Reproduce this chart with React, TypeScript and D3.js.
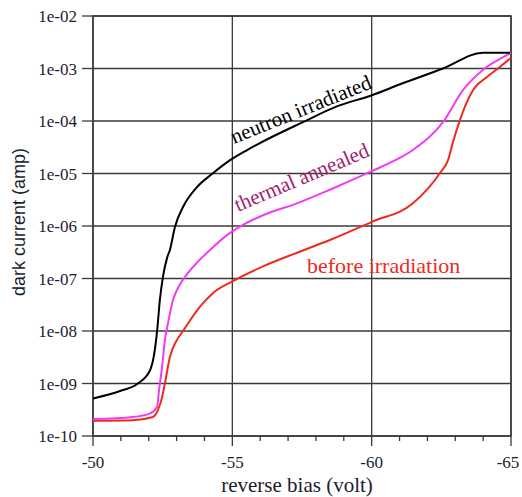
import React, { useEffect } from 'react'
import * as d3 from 'd3'

// reverse bias (V) and dark current (A)
const neutronV = [-50, -50.97, -51.61, -52.05, -52.22, -52.3, -52.4, -52.51, -52.66, -52.76, -52.94, -53.23, -53.73, -54.27, -54.92, -55.53, -55.99, -57.53, -58.75, -60.01, -61.02, -62.56, -63.99, -64.96]
const neutronI = [5.2e-10, 7.2e-10, 1.0e-9, 1.8e-9, 4.4e-9, 1e-8, 3.9e-8, 1.07e-7, 2.5e-7, 3.5e-7, 9.6e-7, 2.3e-6, 5.5e-6, 9.8e-6, 1.8e-5, 2.8e-5, 3.8e-5, 9.5e-5, 1.9e-4, 3.1e-4, 5.0e-4, 1.0e-3, 2.0e-3, 2.0e-3]

const annealedV = [-50, -51.43, -52.05, -52.3, -52.37, -52.48, -52.58, -52.69, -52.87, -53.01, -53.3, -53.73, -54.2, -54.81, -55.38, -56.1, -57.32, -58.5, -59.94, -61.02, -61.48, -62.56, -63.28, -63.99, -64.85, -65]
const annealedI = [2.1e-10, 2.3e-10, 2.7e-10, 3.6e-10, 7.5e-10, 2.1e-9, 6.7e-9, 1.4e-8, 3.9e-8, 6.0e-8, 1.07e-7, 2.0e-7, 3.5e-7, 6.7e-7, 1.05e-6, 1.6e-6, 2.7e-6, 4.9e-6, 1.07e-5, 2.0e-5, 2.8e-5, 9.5e-5, 3.9e-4, 9.4e-4, 1.8e-3, 2.0e-3]

const beforeV = [-50, -51.43, -52.15, -52.33, -52.48, -52.58, -52.76, -53.01, -53.23, -53.84, -54.31, -55.02, -56.1, -57.32, -58.5, -60.01, -61.48, -62.45, -62.74, -62.92, -63.17, -63.35, -63.64, -64.14, -64.6, -65]
const beforeI = [1.95e-10, 2.0e-10, 2.3e-10, 3.1e-10, 5.5e-10, 1.0e-9, 3.2e-9, 6.7e-9, 1.0e-8, 2.9e-8, 5.3e-8, 8.9e-8, 1.7e-7, 3.1e-7, 5.4e-7, 1.2e-6, 2.7e-6, 1.02e-5, 1.8e-5, 4.0e-5, 1.05e-4, 1.9e-4, 3.9e-4, 6.9e-4, 1.07e-3, 1.6e-3]

const yTicks = [1e-10, 1e-9, 1e-8, 1e-7, 1e-6, 1e-5, 1e-4, 1e-3, 1e-2]
const yTickLabels = ['1e-10', '1e-09', '1e-08', '1e-07', '1e-06', '1e-05', '1e-04', '1e-03', '1e-02']
const xMajor = [-50, -55, -60, -65]
const xMinor = d3.range(-51, -65, -1).filter(v => v % 5 !== 0)

const width = 522
const height = 497
const left = 93
const right = 511
const top = 16
const bottom = 436

export default function App() {
  // drop the body margin and any scrollbar so the chart sits at 0,0
  useEffect(() => {
    document.body.style.margin = '0'
    document.body.style.overflow = 'hidden'
  }, [])

  const x = d3.scaleLinear().domain([-50, -65]).range([left, right])
  const y = d3.scaleLog().domain([1e-10, 1e-2]).range([bottom, top])

  const line = d3.line<[number, number]>()
    .x(d => x(d[0]))
    .y(d => y(d[1]))
    .curve(d3.curveMonotoneX)

  const series = [
    { v: beforeV, i: beforeI, color: '#ee2a1e' },
    { v: annealedV, i: annealedI, color: '#f23cf2' },
    { v: neutronV, i: neutronI, color: '#000' },
  ]

  const gridColor = '#3a3a3a'
  const ink = '#1c1c30'

  return (
    <svg width={width} height={height}>
      {/* grid */}
      {yTicks.map(t => (
        <line key={'gy' + t} x1={left} x2={right} y1={y(t)} y2={y(t)} stroke={gridColor} strokeWidth={1.3} />
      ))}
      {xMajor.map(v => (
        <line key={'gx' + v} x1={x(v)} x2={x(v)} y1={top} y2={bottom} stroke={gridColor} strokeWidth={1.3} />
      ))}
      <rect x={left} y={top} width={right - left} height={bottom - top} fill="none" stroke={gridColor} strokeWidth={1.5} />

      {/* ticks */}
      {yTicks.map(t => (
        <line key={'ty' + t} x1={left - 11} x2={left} y1={y(t)} y2={y(t)} stroke={gridColor} strokeWidth={1.3} />
      ))}
      {xMajor.map(v => (
        <line key={'tx' + v} x1={x(v)} x2={x(v)} y1={bottom} y2={bottom + 10} stroke={gridColor} strokeWidth={1.3} />
      ))}
      {xMinor.map(v => (
        <line key={'tm' + v} x1={x(v)} x2={x(v)} y1={bottom} y2={bottom + 5} stroke={gridColor} strokeWidth={1.3} />
      ))}

      {/* tick labels */}
      {yTicks.map((t, k) => (
        <text key={'ly' + t} x={77} y={y(t) + 6} fontSize={17} style={{ fontFamily: 'Times New Roman', fill: ink, textAnchor: 'end' }}>
          {yTickLabels[k]}
        </text>
      ))}
      {xMajor.map(v => (
        <text key={'lx' + v} x={v === -65 ? x(v) - 3 : x(v)} y={468} fontSize={17} style={{ fontFamily: 'Times New Roman', fill: ink, textAnchor: 'middle' }}>
          {v}
        </text>
      ))}

      {/* curves */}
      {series.map((s, k) => (
        <path key={k} d={line(s.v.map((v, j) => [v, s.i[j]] as [number, number])) || ''} fill="none" stroke={s.color} strokeWidth={2} strokeLinejoin="round" />
      ))}

      {/* curve labels */}
      <text x={234} y={144} transform="rotate(-22 234 144)" fontSize={21} style={{ fontFamily: 'Times New Roman', fill: '#000' }}>neutron irradiated</text>
      <text x={238} y={212} transform="rotate(-23 238 212)" fontSize={21} style={{ fontFamily: 'Times New Roman', fill: '#a3206e' }}>thermal annealed</text>
      <text x={307} y={273} fontSize={22} style={{ fontFamily: 'Times New Roman', fill: '#ee2a1e' }}>before irradiation</text>

      {/* axis titles */}
      <text x={297} y={492} fontSize={21} style={{ fontFamily: 'Times New Roman', fill: ink, textAnchor: 'middle' }}>reverse bias (volt)</text>
      <text transform="translate(25,222) rotate(-90)" fontSize={18} style={{ fontFamily: 'Liberation Sans', fill: ink, textAnchor: 'middle' }}>dark current (amp)</text>
    </svg>
  )
}
